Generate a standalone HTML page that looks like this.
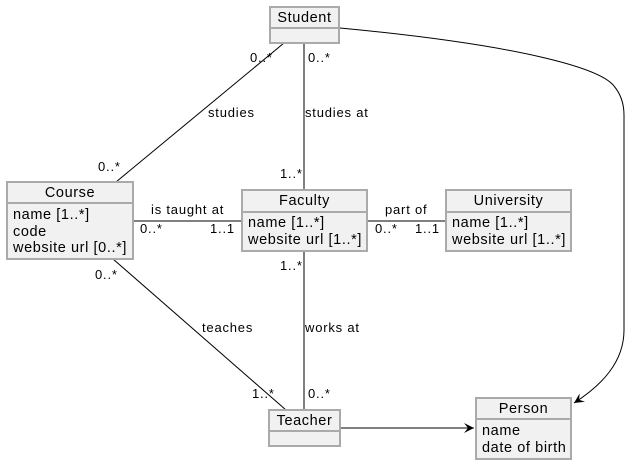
<!DOCTYPE html>
<html><head><meta charset="utf-8"><style>
html,body{margin:0;padding:0;background:#fff;}
svg{display:block;font-family:"Liberation Sans",sans-serif;}
.b{fill:#f1f1f1;stroke:#aaa;stroke-width:2;}
.l{stroke:#000;stroke-width:1;fill:none;}
.t{font-size:14.5px;fill:#000;letter-spacing:0.6px;}
.s{font-size:13px;fill:#000;letter-spacing:0.8px;}
</style></head><body>
<svg width="631" height="465" viewBox="0 0 631 465" xmlns="http://www.w3.org/2000/svg">
<defs><marker id="a" markerWidth="12" markerHeight="10" refX="10" refY="5" orient="auto" markerUnits="userSpaceOnUse"><path d="M0,0 L10,5 L0,10 L4,5 Z" fill="#000"/></marker></defs>
<line class="l" x1="284" y1="43" x2="116" y2="182"/>
<line class="l" x1="304" y1="43" x2="304" y2="190"/>
<line class="l" x1="133" y1="221" x2="242" y2="221"/>
<line class="l" x1="367" y1="221" x2="446" y2="221"/>
<line class="l" x1="304" y1="251" x2="304" y2="410"/>
<line class="l" x1="113" y1="259" x2="286" y2="410"/>
<line class="l" x1="341" y1="428" x2="474" y2="428" marker-end="url(#a)"/>
<path class="l" d="M340,28 C520,45 600,68 614,86 Q624,98 624,115 L624,330 C624,362 602,385 574,403" marker-end="url(#a)"/>
<text class="s" x="250" y="62">0..*</text>
<text class="s" x="308" y="62">0..*</text>
<text class="s" x="208" y="117">studies</text>
<text class="s" x="305" y="117">studies at</text>
<text class="s" x="98" y="171">0..*</text>
<text class="s" x="280" y="178">1..*</text>
<text class="s" x="151" y="214">is taught at</text>
<text class="s" x="140" y="233">0..*</text>
<text class="s" x="210" y="233">1..1</text>
<text class="s" x="385" y="214">part of</text>
<text class="s" x="375" y="233">0..*</text>
<text class="s" x="415" y="233">1..1</text>
<text class="s" x="95" y="279">0..*</text>
<text class="s" x="280" y="270">1..*</text>
<text class="s" x="202" y="332">teaches</text>
<text class="s" x="305" y="332">works at</text>
<text class="s" x="252" y="398">1..*</text>
<text class="s" x="308" y="398">0..*</text>
<rect class="b" x="270" y="7" width="69" height="36"/><line stroke="#aaa" stroke-width="2" x1="270" y1="28" x2="339" y2="28"/>
<text class="t" x="304.5" y="22" text-anchor="middle">Student</text>
<rect class="b" x="7" y="182" width="126" height="77"/><line stroke="#aaa" stroke-width="2" x1="7" y1="203" x2="133" y2="203"/>
<text class="t" x="70" y="197" text-anchor="middle">Course</text>
<text class="t" x="13" y="219">name [1..*]</text>
<text class="t" x="13" y="236">code</text>
<text class="t" x="13" y="252">website url [0..*]</text>
<rect class="b" x="242" y="190" width="125" height="61"/><line stroke="#aaa" stroke-width="2" x1="242" y1="212" x2="367" y2="212"/>
<text class="t" x="304.5" y="205" text-anchor="middle">Faculty</text>
<text class="t" x="248" y="227">name [1..*]</text>
<text class="t" x="248" y="244">website url [1..*]</text>
<rect class="b" x="446" y="190" width="125" height="61"/><line stroke="#aaa" stroke-width="2" x1="446" y1="212" x2="571" y2="212"/>
<text class="t" x="508.5" y="205" text-anchor="middle">University</text>
<text class="t" x="452" y="227">name [1..*]</text>
<text class="t" x="452" y="244">website url [1..*]</text>
<rect class="b" x="269" y="410" width="71" height="36"/><line stroke="#aaa" stroke-width="2" x1="269" y1="431" x2="340" y2="431"/>
<text class="t" x="304.5" y="425" text-anchor="middle">Teacher</text>
<rect class="b" x="476" y="398" width="95" height="61"/><line stroke="#aaa" stroke-width="2" x1="476" y1="419" x2="571" y2="419"/>
<text class="t" x="523.5" y="413" text-anchor="middle">Person</text>
<text class="t" x="482" y="435">name</text>
<text class="t" x="482" y="452">date of birth</text>
</svg>
</body></html>
